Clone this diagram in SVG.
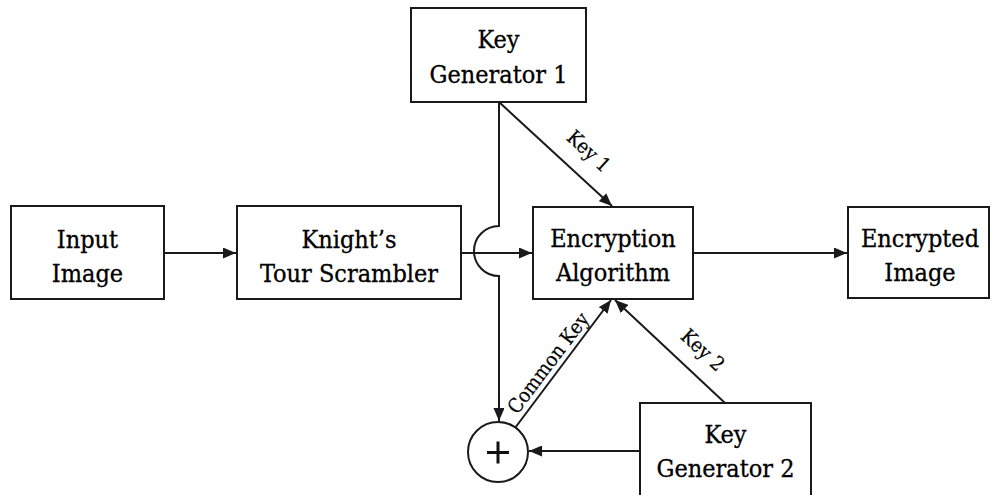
<svg xmlns="http://www.w3.org/2000/svg" width="992" height="495" viewBox="0 0 992 495">
  <style>
    .box { fill: #ffffff; stroke: #1a1a1a; stroke-width: 2; }
    .lbl { font-family: "DejaVu Serif Condensed", "DejaVu Serif", serif; font-stretch: condensed; font-size: 25px; fill: #000000; stroke: #000000; stroke-width: 0.3; text-anchor: middle; }
    .edge { font-family: "DejaVu Serif Condensed", "DejaVu Serif", serif; font-stretch: condensed; font-size: 20px; fill: #000000; stroke: #000000; stroke-width: 0.2; text-anchor: middle; }
    .wire { fill: none; stroke: #1a1a1a; stroke-width: 2; }
  </style>
  <defs>
    <marker id="arrow" markerUnits="userSpaceOnUse" markerWidth="13" markerHeight="11" refX="13" refY="5.5" orient="auto">
      <path d="M0,0 L13,5.5 L0,11 z" fill="#1a1a1a"/>
    </marker>
  </defs>
  <rect width="992" height="495" fill="#ffffff"/>

  <g id="input-image">
    <rect class="box" x="11" y="206" width="153" height="93"/>
    <text class="lbl" x="87.5" y="248">Input</text>
    <text class="lbl" x="87.5" y="282">Image</text>
  </g>

  <g id="knights-tour-scrambler">
    <rect class="box" x="237" y="206" width="224" height="93"/>
    <text class="lbl" x="349" y="248">Knight’s</text>
    <text class="lbl" x="349" y="282">Tour Scrambler</text>
  </g>

  <g id="encryption-algorithm">
    <rect class="box" x="533" y="207" width="160" height="92"/>
    <text class="lbl" x="613" y="247">Encryption</text>
    <text class="lbl" x="613" y="281">Algorithm</text>
  </g>

  <g id="encrypted-image">
    <rect class="box" x="848" y="207" width="141" height="91"/>
    <text class="lbl" x="920" y="247">Encrypted</text>
    <text class="lbl" x="920" y="281">Image</text>
  </g>

  <g id="key-generator-1">
    <rect class="box" x="411" y="8" width="175" height="94"/>
    <text class="lbl" x="498.5" y="48">Key</text>
    <text class="lbl" x="498.5" y="83">Generator 1</text>
  </g>

  <g id="key-generator-2">
    <rect class="box" x="640" y="403" width="171" height="100"/>
    <text class="lbl" x="725.5" y="443">Key</text>
    <text class="lbl" x="725.5" y="477">Generator 2</text>
  </g>

  <g id="adder">
    <circle cx="498" cy="452" r="30" fill="#ffffff" stroke="#1a1a1a" stroke-width="2"/>
    <path d="M487,452.5 H509 M498,441.5 V463.5" stroke="#111111" stroke-width="3" fill="none"/>
  </g>

  <g id="connectors">
    <path class="wire" d="M164,253 H236" marker-end="url(#arrow)"/>
    <path class="wire" d="M461,253 H532" marker-end="url(#arrow)"/>
    <path class="wire" d="M693,253 H847" marker-end="url(#arrow)"/>
    <path class="wire" d="M499,102 L612,206" marker-end="url(#arrow)"/>
    <path class="wire" d="M499,102 V226 A25,25 0 0 0 499,276 V421" marker-end="url(#arrow)"/>
    <path class="wire" d="M515,428 L611,300" marker-end="url(#arrow)"/>
    <path class="wire" d="M725,403 L615,300" marker-end="url(#arrow)"/>
    <path class="wire" d="M640,451 H529" marker-end="url(#arrow)"/>
    <text class="edge" transform="translate(589,151) rotate(42.6)" y="7">Key 1</text>
    <text class="edge" transform="translate(703,350) rotate(42.8)" y="7">Key 2</text>
    <text class="edge" transform="translate(548,363) rotate(-52.8)" y="7">Common Key</text>
  </g>
</svg>
